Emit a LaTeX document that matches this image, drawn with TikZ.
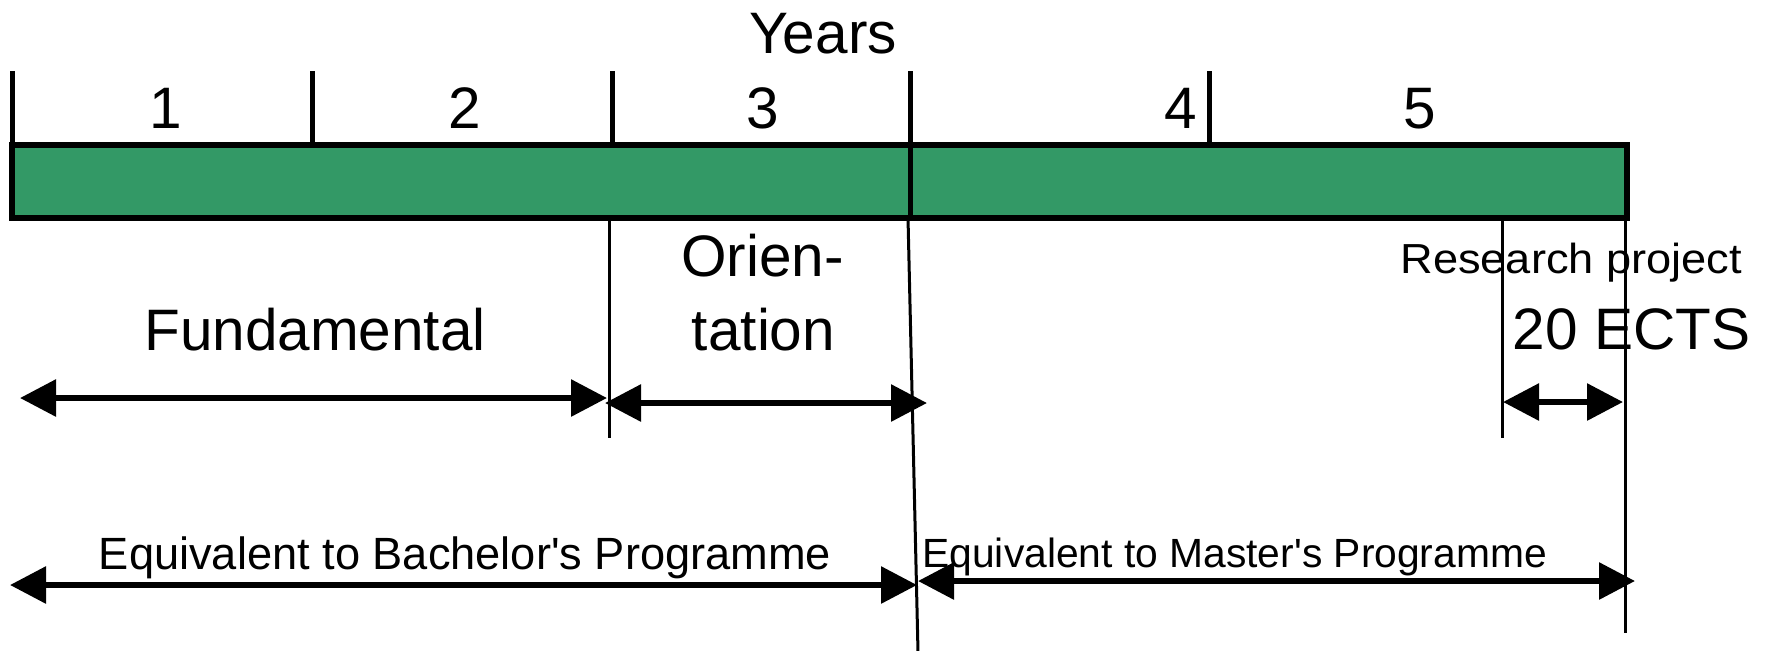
\documentclass[tikz,border=0pt]{standalone}
\usepackage{fontspec}
\newfontfamily\lib{Liberation Sans}
\newfontfamily\libw{Liberation Sans}[FakeStretch=1.076]
\usetikzlibrary{arrows.meta}
\definecolor{bargreen}{RGB}{51,153,102}
\begin{document}
\begin{tikzpicture}[x=0.5pt,y=-0.5pt,
  big/.style={font=\lib\fontsize{29.25pt}{36pt}\selectfont, inner sep=0pt, anchor=base},
  mid/.style={font=\lib\fontsize{22.6pt}{27pt}\selectfont, inner sep=0pt, anchor=base},
  small/.style={font=\lib\fontsize{20.4pt}{25pt}\selectfont, inner sep=0pt, anchor=base west},
  rp/.style={font=\libw\fontsize{21pt}{25pt}\selectfont, inner sep=0pt, anchor=base west},
  tickline/.style={line width=2.5pt},
  guide/.style={line width=1.5pt},
  span/.style={line width=3pt, {Triangle[length=18pt,width=18pt]}-{Triangle[length=18pt,width=18pt]}}
]
\useasboundingbox (0,0) rectangle (1770,650);

% bar
\coordinate (barNW) at (12,145);
\coordinate (barSE) at (1627,218);
\draw[line width=3pt, fill=bargreen] (barNW) rectangle (barSE);

% ticks
\coordinate (t0) at (12,71);   \coordinate (b0) at (12,145);
\coordinate (t1) at (312,71);  \coordinate (b1) at (312,145);
\coordinate (t2) at (612,71);  \coordinate (b2) at (612,145);
\coordinate (t3) at (910,71);  \coordinate (b3) at (910,218);
\coordinate (t4) at (1209,71); \coordinate (b4) at (1209,145);
\draw[tickline] (t0) -- (b0);
\draw[tickline] (t1) -- (b1);
\draw[tickline] (t2) -- (b2);
\draw[tickline] (t3) -- (b3);
\draw[tickline] (t4) -- (b4);

% guide lines
\coordinate (g1a) at (609,218);  \coordinate (g1b) at (609,438);
\coordinate (g2a) at (908,218);  \coordinate (g2b) at (918,652);
\coordinate (g3a) at (1502,218); \coordinate (g3b) at (1502,438);
\coordinate (g4a) at (1625,218); \coordinate (g4b) at (1625,633);
\draw[guide] (g1a) -- (g1b);
\draw[guide] (g2a) -- (g2b);
\draw[guide] (g3a) -- (g3b);
\draw[guide] (g4a) -- (g4b);

% spans
\coordinate (fa) at (20,398);   \coordinate (fb) at (607,398);
\coordinate (oa) at (605,403);  \coordinate (ob) at (927,403);
\coordinate (ra) at (1503,402); \coordinate (rb) at (1623,402);
\coordinate (ba) at (10,585);   \coordinate (bb) at (917,585);
\coordinate (ma) at (918,581);  \coordinate (mb) at (1635,581);
\draw[span] (fa) -- (fb);
\draw[span] (oa) -- (ob);
\draw[span] (ra) -- (rb);
\draw[span] (ba) -- (bb);
\draw[span] (ma) -- (mb);

% texts
\node[big] (years) at (823,53) {Years};
\node[big] (y1) at (166,128) {1};
\node[big] (y2) at (465,128) {2};
\node[big] (y3) at (763,128) {3};
\node[big] (y4) at (1181,128) {4};
\node[big] (y5) at (1420,128) {5};
\node[big] (fund) at (315,350) {Fundamental};
\node[big] (orien) at (762.5,276) {Orien-};
\node[big] (tation) at (763.5,350) {tation};
\node[rp] (research) at (1400,273) {Research project};
\node[big] (ects) at (1631.5,349) {20 ECTS};
\node[mid] (bach) at (465,569) {Equivalent to Bachelor's Programme};
\node[small] (mast) at (922,567) {Equivalent to Master's Programme};
\end{tikzpicture}
\end{document}
